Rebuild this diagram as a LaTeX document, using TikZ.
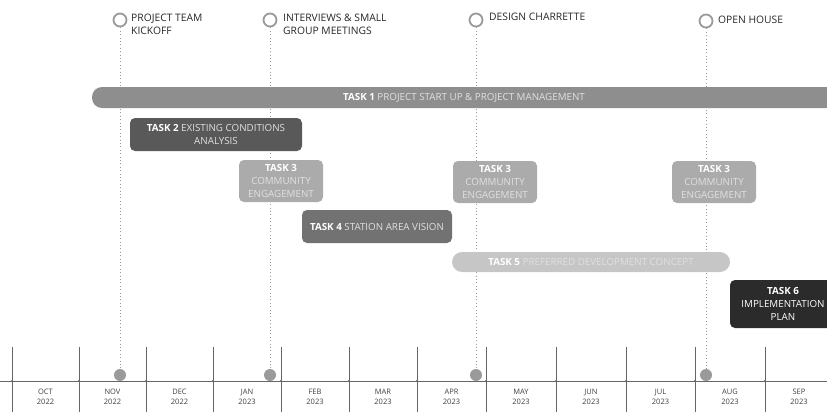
\documentclass[tikz,border=0pt]{standalone}
\usepackage{fontspec}
\setmainfont{Open Sans}
\usepackage{tikz}
\usetikzlibrary{positioning}
\definecolor{barone}{HTML}{8E8E8E}
\definecolor{bartwo}{HTML}{595959}
\definecolor{barthree}{HTML}{ABABAB}
\definecolor{barfour}{HTML}{727272}
\definecolor{barfive}{HTML}{C6C6C6}
\definecolor{barsix}{HTML}{2B2B2B}
\definecolor{milegray}{HTML}{9A9A9A}
\newcommand\tasknum[1]{\textbf{\color{white}TASK #1}}

\begin{document}
\begin{tikzpicture}[x=1pt, y=-1pt, every node/.style={font=\fontsize{9.8}{12.8}\selectfont},
  taskbar/.style={rounded corners=5pt, inner sep=0pt, align=center, text=black!12},
  pillbar/.style={taskbar, rounded corners=10pt},
  mile/.style={circle, draw=milegray, line width=1.8pt, minimum size=13pt, inner sep=0pt},
  mdot/.style={circle, fill=milegray, minimum size=12pt, inner sep=0pt},
  guide/.style={draw=black!40, line width=0.8pt, dash pattern=on 0.8pt off 2.6pt},
  milelabel/.style={anchor=north west, inner sep=0pt, align=left, text=black!85,
    font=\fontsize{10.3}{12.5}\selectfont},
  axisline/.style={draw=black!60, line width=0.7pt},
  monthlabel/.style={align=center, text=black!75, font=\fontsize{7.5}{10.5}\selectfont}]
  \useasboundingbox (0,0) rectangle (827,412);
  \clip (0,0) rectangle (827,412);

  % milestones
  \node[mile] (m1) at (120,20) {};
  \node[mile] (m2) at (270,20) {};
  \node[mile] (m3) at (476,20) {};
  \node[mile] (m4) at (706,21) {};
  \node[mdot] (d1) at (120,375) {};
  \node[mdot] (d2) at (270,375) {};
  \node[mdot] (d3) at (476,375) {};
  \node[mdot] (d4) at (706,375) {};
  \foreach \i in {1,...,4}
    \draw[guide] (m\i) -- (d\i);
  \node[milelabel] (kickoff) at (131,14) {PROJECT TEAM\\KICKOFF};
  \node[milelabel] (interviews) at (283,14) {INTERVIEWS \& SMALL\\GROUP MEETINGS};
  \node[milelabel] (charrette) at (489,13) {DESIGN CHARRETTE};
  \node[milelabel] (openhouse) at (718,16) {OPEN HOUSE};

  % tasks
  \node[pillbar, fill=barone, minimum width=744, minimum height=21] (t1) at (464,97.5)
    {\tasknum{1} PROJECT START UP \& PROJECT MANAGEMENT};
  \node[taskbar, fill=bartwo, minimum width=172, minimum height=33] (t2) at (216,134.5)
    {\tasknum{2} EXISTING CONDITIONS\\ANALYSIS};
  \node[taskbar, fill=barthree, minimum width=84, minimum height=42] (t3a) at (281,181)
    {\tasknum{3}\\COMMUNITY\\ENGAGEMENT};
  \node[taskbar, fill=barthree, minimum width=84, minimum height=42] (t3b) at (495,182)
    {\tasknum{3}\\COMMUNITY\\ENGAGEMENT};
  \node[taskbar, fill=barthree, minimum width=84, minimum height=42] (t3c) at (714,182)
    {\tasknum{3}\\COMMUNITY\\ENGAGEMENT};
  \node[taskbar, fill=barfour, minimum width=150, minimum height=33] (t4) at (377,226.5)
    {\tasknum{4} STATION AREA VISION};
  \node[pillbar, fill=barfive, minimum width=278, minimum height=20] (t5) at (591,262)
    {\tasknum{5} PREFERRED DEVELOPMENT CONCEPT};
  \node[taskbar, fill=barsix, text=white, minimum width=106, minimum height=48] (t6) at (783,304)
    {\tasknum{6}\\IMPLEMENTATION\\PLAN};

  % months
  \draw[axisline] (0,381) -- (827,381);
  \foreach \x in {12,79,146,213,281,349,417,486,556,626,695,765} {
    \draw[axisline] (\x,347) -- (\x,412);
    \fill[black!60] (\x,381) circle (1.2pt);
  }
  \foreach \x/\m/\yr in {45.5/OCT/2022, 112.5/NOV/2022, 179.5/DEC/2022, 247/JAN/2023,
      315/FEB/2023, 383/MAR/2023, 451.5/APR/2023, 521/MAY/2023, 591/JUN/2023,
      660.5/JUL/2023, 730/AUG/2023, 799/SEP/2023}
    \node[monthlabel] (mon\m) at (\x,397) {\m\\\yr};
\end{tikzpicture}
\end{document}
